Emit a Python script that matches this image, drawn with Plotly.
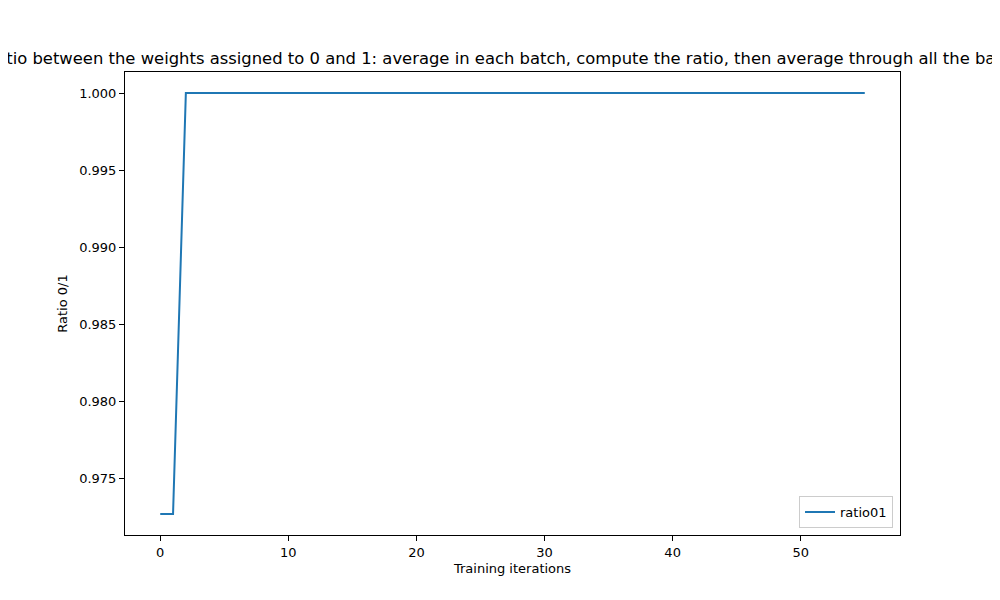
import plotly.graph_objects as go

# Training curve data
iterations = list(range(56))
ratio01 = [0.97268, 0.97268] + [1.0] * 54

fig = go.Figure()

fig.add_trace(go.Scatter(
    x=iterations,
    y=ratio01,
    mode="lines",
    line=dict(color="#1f77b4", width=2),
    name="ratio01"
))

axis_style = dict(
    showline=True,
    linecolor="black",
    linewidth=1,
    mirror=True,
    ticks="outside",
    ticklen=5,
    tickcolor="black",
    showgrid=False,
    zeroline=False,
    tickfont=dict(size=13, color="black"),
)

# page body has an 8px margin, so the figure is sized/offset to compensate
fig.update_layout(
    width=992,
    height=592,
    template="none",
    plot_bgcolor="white",
    paper_bgcolor="white",
    font=dict(family="DejaVu Sans", color="black"),
    margin=dict(l=117, r=100, t=64, b=65),
    title=dict(
        text="Ratio between the weights assigned to 0 and 1: average in each batch, "
             "compute the ratio, then average through all the batches",
        xref="paper", x=0.5, xanchor="center",
        yref="container", y=1 - 50 / 592, yanchor="middle",
        font=dict(size=16.4, color="black"),
    ),
    xaxis=dict(
        title=dict(text="Training iterations", font=dict(size=13), standoff=5),
        range=[-2.75, 57.75],
        tickvals=[0, 10, 20, 30, 40, 50],
        **axis_style,
    ),
    yaxis=dict(
        title=dict(text="Ratio 0/1", font=dict(size=13), standoff=8),
        range=[0.97132, 1.00137],
        tickvals=[0.975, 0.980, 0.985, 0.990, 0.995, 1.000],
        tickformat=".3f",
        **axis_style,
    ),
    showlegend=True,
    legend=dict(
        x=0.991, y=0.015, xanchor="right", yanchor="bottom",
        bgcolor="white", bordercolor="#cccccc", borderwidth=1,
        font=dict(size=13),
    ),
)

fig.write_html("out.html")
